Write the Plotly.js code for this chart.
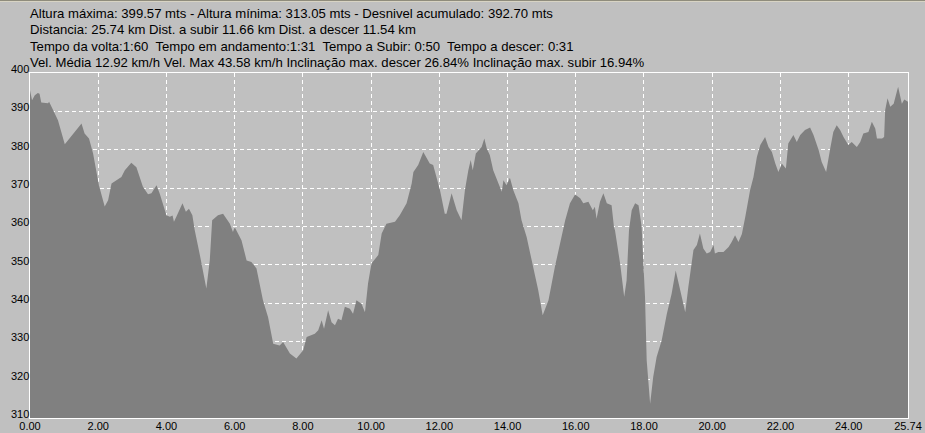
<!DOCTYPE html>
<html>
<head>
<meta charset="utf-8">
<script src="https://cdn.plot.ly/plotly-3.0.1.min.js"></script>
<style>html,body{margin:0;padding:0;background:#c0c0c0;}#chart{width:925px;height:433px;}</style>
</head>
<body>
<div id="chart"></div>
<script>
const distanceKm = [0.00,0.06,0.14,0.23,0.28,0.33,0.53,0.56,0.67,0.82,1.02,1.16,1.31,1.51,1.60,1.73,1.85,1.95,2.02,2.19,2.29,2.39,2.53,2.68,2.78,2.97,3.12,3.31,3.46,3.56,3.71,3.80,4.00,4.10,4.18,4.22,4.29,4.47,4.57,4.66,4.76,4.83,4.98,5.17,5.27,5.34,5.51,5.66,5.86,5.95,6.00,6.20,6.35,6.49,6.64,6.83,6.98,7.13,7.32,7.42,7.62,7.81,8.01,8.11,8.35,8.45,8.55,8.62,8.74,8.84,8.94,9.03,9.13,9.23,9.38,9.47,9.57,9.72,9.82,9.91,10.01,10.21,10.31,10.45,10.70,10.84,11.04,11.19,11.24,11.38,11.53,11.63,11.72,11.82,11.92,12.02,12.16,12.21,12.36,12.51,12.65,12.75,12.85,12.92,12.98,13.07,13.24,13.32,13.39,13.48,13.58,13.73,13.83,13.88,13.97,14.07,14.17,14.32,14.41,14.56,14.76,14.90,15.03,15.20,15.39,15.54,15.69,15.83,15.98,16.13,16.22,16.37,16.50,16.56,16.61,16.71,16.81,16.91,17.05,17.12,17.15,17.30,17.42,17.49,17.56,17.64,17.74,17.84,17.93,18.03,18.08,18.18,18.27,18.37,18.52,18.67,18.81,18.93,19.06,19.21,19.30,19.45,19.55,19.64,19.74,19.84,19.94,20.04,20.08,20.18,20.33,20.48,20.57,20.67,20.77,20.87,20.97,21.11,21.21,21.31,21.41,21.55,21.65,21.75,21.85,21.94,22.04,22.16,22.23,22.38,22.48,22.58,22.72,22.87,22.97,23.12,23.21,23.34,23.46,23.55,23.65,23.75,23.85,23.99,24.09,24.24,24.34,24.43,24.58,24.68,24.78,24.83,24.98,25.04,25.07,25.14,25.22,25.32,25.45,25.51,25.56,25.63,25.74];
const altitudeM = [395.5,392.9,394.2,394.8,394.6,392.3,392.1,392.5,390.5,387.7,381.4,382.9,384.6,386.8,384.2,382.9,379.0,374.6,370.7,365.2,366.8,371.2,372.0,372.9,374.6,376.6,375.4,370.3,368.4,368.6,370.7,368.6,362.9,362.5,362.8,361.2,362.5,366.0,363.8,364.6,362.9,359.0,352.5,343.8,351.1,361.6,362.9,363.3,360.7,358.5,359.8,356.4,351.1,350.7,349.0,340.7,336.3,329.4,328.9,329.8,326.8,325.5,327.7,331.1,332.0,332.9,335.5,333.3,338.1,335.0,334.2,335.9,335.5,339.0,338.5,337.2,340.7,339.8,337.6,345.1,350.3,352.5,358.1,360.7,361.2,362.9,366.0,371.2,374.2,376.0,379.4,377.7,376.4,376.0,372.9,369.4,363.3,363.3,368.6,364.2,361.6,369.4,374.6,377.3,374.6,379.0,380.7,382.9,380.3,378.6,374.6,371.2,369.0,372.0,370.7,372.7,369.4,366.0,361.6,357.2,349.5,343.3,336.8,340.7,349.5,355.5,361.6,366.0,368.3,367.3,366.0,366.4,364.2,365.1,362.0,366.4,368.6,366.0,365.5,359.8,359.0,350.3,341.6,345.9,359.0,364.2,366.0,365.5,360.0,341.6,325.0,313.7,320.7,325.9,330.3,337.2,342.4,348.5,343.3,337.6,344.2,353.8,355.1,358.1,354.2,352.9,353.3,355.1,352.9,353.3,353.3,354.6,355.9,357.7,355.9,358.0,362.5,369.4,372.9,378.1,381.2,383.3,380.7,379.4,376.4,374.2,376.4,375.1,381.6,383.8,382.0,383.8,385.1,385.8,383.8,379.9,376.8,374.2,380.3,384.6,386.4,385.1,383.3,381.2,382.0,380.7,382.0,384.2,384.6,387.3,385.5,382.9,382.9,383.3,390.3,393.4,391.2,392.0,396.4,394.2,392.0,393.1,392.5];

const xTickVals = [0,2,4,6,8,10,12,14,16,18,20,22,24,25.74];
const xTickText = ["0.00","2.00","4.00","6.00","8.00","10.00","12.00","14.00","16.00","18.00","20.00","22.00","24.00","25.74"];
const yTickVals = [310,320,330,340,350,360,370,380,390,400];
const yTickText = ["310","320","330","340","350","360","370","380","390","400"];
const headerLines = [
  "Altura máxima: 399.57 mts - Altura mínima: 313.05 mts - Desnivel acumulado: 392.70 mts",
  "Distancia: 25.74 km Dist. a subir 11.66 km Dist. a descer 11.54 km",
  "Tempo da volta:1:60  Tempo em andamento:1:31  Tempo a Subir: 0:50  Tempo a descer: 0:31",
  "Vel. Média 12.92 km/h Vel. Max 43.58 km/h Inclinação max. descer 26.84% Inclinação max. subir 16.94%"
];

const M = {l:30, r:17, t:73, b:15};
const plotH = 433 - M.t - M.b;
const headerCenters = [13.5, 30, 46.5, 62.5];
const FONT = "Arial, 'Liberation Sans', sans-serif";

const annotations = [];
headerLines.forEach((t, i) => {
  annotations.push({
    text: t, xref: 'paper', yref: 'paper', x: 0, xanchor: 'left', xshift: -2,
    y: 1 + (M.t - headerCenters[i]) / plotH, yanchor: 'middle',
    showarrow: false, font: {family: FONT, size: 13.15, color: '#000'}
  });
});
yTickVals.forEach((v, i) => {
  annotations.push({
    text: yTickText[i], xref: 'paper', yref: 'y', x: 0, xanchor: 'right', xshift: 1,
    y: v, yanchor: 'middle', yshift: 4,
    showarrow: false, font: {family: FONT, size: 11, color: '#000'}
  });
});

const trace = {
  x: distanceKm, y: altitudeM, type: 'scatter', mode: 'lines',
  fill: 'tozeroy', fillcolor: '#808080', line: {width: 0, color: '#808080'},
  hoverinfo: 'skip'
};

const layout = {
  width: 925, height: 433,
  margin: M,
  paper_bgcolor: '#c0c0c0', plot_bgcolor: '#c0c0c0',
  showlegend: false,
  xaxis: {
    range: [0, 25.74], tickvals: xTickVals, ticktext: xTickText,
    showgrid: true, gridcolor: '#ffffff', gridwidth: 1, griddash: '4px,3px',
    zeroline: false, showline: true, linecolor: '#ffffff', linewidth: 1, mirror: true,
    ticks: '', ticklabelstandoff: -2,
    tickfont: {family: FONT, size: 11, color: '#000'}, fixedrange: true
  },
  yaxis: {
    range: [310, 400], tickvals: yTickVals,
    showgrid: true, gridcolor: '#ffffff', gridwidth: 1, griddash: '4px,3px',
    zeroline: false, showline: true, linecolor: '#ffffff', linewidth: 1, mirror: true,
    showticklabels: false, ticks: '', fixedrange: true
  },
  annotations: annotations,
  shapes: [
    {type: 'line', xref: 'paper', yref: 'paper', x0: -0.05, x1: 1.05,
     y0: 1 + (M.t - 0.5) / plotH, y1: 1 + (M.t - 0.5) / plotH,
     line: {color: '#8f8c7c', width: 1}},
    {type: 'line', xref: 'paper', yref: 'paper', x0: -0.05, x1: 1.05,
     y0: 1 + (M.t - 1.5) / plotH, y1: 1 + (M.t - 1.5) / plotH,
     line: {color: '#d8d4c4', width: 1}}
  ]
};

Plotly.newPlot('chart', [trace], layout, {displayModeBar: false, staticPlot: true});
</script>
</body>
</html>
